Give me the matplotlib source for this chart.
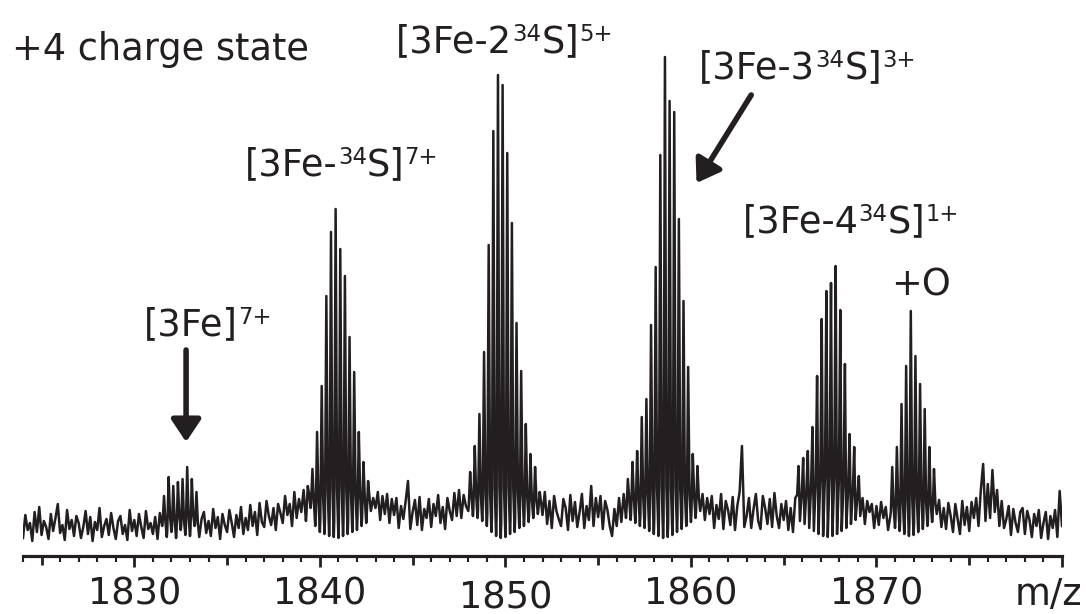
import numpy as np
import matplotlib.pyplot as plt
from matplotlib.ticker import MultipleLocator, FuncFormatter
from matplotlib.transforms import ScaledTranslation

ink = '#231f20'
plt.rcParams['font.family'] = ['DejaVu Sans']

# coarse profile of the +4 region, 0.125 m/z steps, one row per m/z unit
mz0 = 1824.0
dmz = 0.125
trace = [
    18, 41, 26, 33, 15, 44, 24, 49,   # 1824
    21, 35, 29, 17, 42, 25, 38, 52,   # 1825
    23, 31, 16, 46, 27, 36, 20, 40,   # 1826
    33, 18, 29, 45, 22, 39, 15, 34,   # 1827
    26, 48, 19, 30, 37, 21, 43, 28,   # 1828
    17, 35, 40, 22, 31, 16, 46, 25,   # 1829
    36, 20, 42, 29, 18, 45, 27, 33,   # 1830
    22, 39, 17, 43, 30, 45, 19, 50,   # 1831
    24, 47, 18, 49, 26, 46, 21, 52,   # 1832
    20, 48, 30, 42, 19, 37, 44, 23,   # 1833
    35, 20, 47, 28, 39, 17, 42, 31,   # 1834
    24, 46, 33, 19, 41, 28, 49, 22,   # 1835
    38, 26, 51, 30, 44, 21, 53, 34,   # 1836
    29, 55, 40, 31, 48, 26, 52, 43,   # 1837
    33, 60, 41, 52, 30, 64, 38, 57,   # 1838
    44, 66, 35, 70, 48, 72, 30, 75,   # 1839
    24, 85, 22, 95, 20, 100, 19, 100,  # 1840
    18, 100, 20, 95, 22, 90, 24, 85,  # 1841
    26, 80, 30, 72, 33, 68, 45, 58,   # 1842
    48, 64, 36, 60, 42, 62, 33, 57,   # 1843
    41, 58, 28, 50, 37, 55, 75, 27,   # 1844
    44, 56, 31, 59, 26, 47, 38, 57,   # 1845
    29, 52, 40, 61, 33, 49, 27, 58,   # 1846
    45, 36, 63, 40, 66, 38, 61, 50,   # 1847
    45, 72, 40, 75, 38, 80, 35, 85,   # 1848
    30, 90, 24, 100, 20, 105, 18, 100,  # 1849
    19, 100, 22, 95, 24, 88, 28, 82,  # 1850
    30, 76, 34, 70, 38, 66, 42, 62,   # 1851
    41, 64, 32, 55, 28, 60, 45, 37,   # 1852
    30, 57, 48, 26, 61, 35, 54, 29,   # 1853
    44, 62, 28, 50, 36, 70, 30, 58,   # 1854
    39, 60, 27, 55, 46, 30, 20, 47,   # 1855
    30, 58, 34, 62, 38, 70, 36, 74,   # 1856
    33, 78, 30, 82, 28, 88, 25, 92,   # 1857
    22, 98, 20, 105, 18, 105, 19, 100,  # 1858
    21, 98, 24, 92, 27, 86, 30, 80,   # 1859
    34, 74, 38, 68, 45, 62, 36, 58,   # 1860
    42, 60, 28, 51, 37, 62, 27, 55,   # 1861
    46, 31, 59, 26, 50, 64, 110, 29,  # 1862
    40, 58, 28, 47, 62, 35, 27, 60,   # 1863
    48, 32, 57, 29, 63, 40, 28, 52,   # 1864
    36, 55, 26, 48, 24, 58, 62, 35,   # 1865
    70, 32, 74, 28, 80, 25, 86, 22,   # 1866
    92, 20, 96, 19, 98, 20, 95, 22,   # 1867
    90, 25, 84, 28, 78, 32, 72, 36,   # 1868
    66, 40, 58, 32, 55, 44, 52, 28,   # 1869
    50, 31, 54, 38, 49, 26, 40, 62,   # 1870
    28, 68, 25, 74, 22, 80, 20, 84,   # 1871
    21, 80, 24, 75, 27, 70, 30, 65,   # 1872
    34, 60, 42, 56, 29, 48, 27, 53,   # 1873
    40, 24, 52, 37, 22, 55, 31, 49,   # 1874
    25, 54, 38, 58, 30, 66, 92, 35,   # 1875
    72, 38, 86, 44, 66, 30, 55, 28,   # 1876
    37, 50, 21, 47, 33, 24, 44, 48,   # 1877
    22, 45, 36, 19, 42, 30, 46, 18,   # 1878
    33, 44, 17, 40, 28, 46, 19, 65,   # 1879
    30,                               # 1880
]

# isotope envelopes of the +4 ions (0.25 m/z apart): first m/z, peak heights
iso_dmz = 0.25
env_start = [1831.60, 1839.35, 1848.10, 1856.60, 1865.80, 1870.85]
env_heights = [
    [60, 79, 70, 74, 77, 89, 77, 64],
    [70, 87, 124, 170, 260, 324, 347, 307, 280, 219, 184, 124, 94, 75],
    [84, 110, 142, 204, 311, 425, 481, 471, 403, 333, 233, 185, 132, 102, 89, 64],
    [77, 94, 105, 139, 157, 231, 289, 401, 499, 455, 444, 337, 255, 189, 102, 90],
    [90, 98, 105, 129, 180, 237, 265, 273, 290, 246, 192, 122, 109, 80],
    [89, 109, 152, 190, 245, 200, 172, 147, 109, 87],
]

tick_labels = [1830, 1840, 1850, 1860, 1870]

# each label: pieces of (text, superscript?) and the left end of its baseline
labels = [
    ([('+4 charge state', False)], 1823.42, 496),
    ([('[3Fe-2', False), ('34', True), ('S]', False), ('5+', True)], 1844.12, 504),
    ([('[3Fe-', False), ('34', True), ('S]', False), ('7+', True)], 1835.98, 381),
    ([('[3Fe-3', False), ('34', True), ('S]', False), ('3+', True)], 1860.45, 478),
    ([('[3Fe-4', False), ('34', True), ('S]', False), ('1+', True)], 1862.78, 324),
    ([('+O', False)], 1870.81, 261),
    ([('[3Fe]', False), ('7+', True)], 1830.54, 221),
]
# (tail, head) of the two pointer arrows
arrows = [((1832.79, 206), (1832.79, 114)),
          ((1863.25, 461), (1860.30, 373))]

# build the line: coarse trace plus a narrow spike for every isotope peak
mz = mz0 + dmz * np.arange(len(trace))
trace = np.array(trace, dtype=float)
peak_mz = np.concatenate([s + iso_dmz * np.arange(len(h)) for s, h in zip(env_start, env_heights)])
peak_h = np.concatenate([np.array(h, dtype=float) for h in env_heights])
w = 0.075
keep = np.min(np.abs(mz[:, None] - peak_mz[None, :]), axis=1) > w + 0.01
xs = np.concatenate([mz[keep], peak_mz - w, peak_mz, peak_mz + w])
ys = np.concatenate([trace[keep], np.interp(peak_mz - w, mz, trace), peak_h,
                     np.interp(peak_mz + w, mz, trace)])
order = np.argsort(xs, kind='stable')

fig = plt.figure(figsize=(10.86, 6.14), dpi=100)
ax = fig.add_axes([23 / 1086, 58 / 614, 1039 / 1086, 556 / 614])
ax.plot(xs[order], ys[order], color=ink, lw=1.8)
ax.set_xlim(1824, 1880)
ax.set_ylim(0, 556)

for side in ['left', 'right', 'top']:
    ax.spines[side].set_visible(False)
ax.spines['bottom'].set_linewidth(2.3)
ax.spines['bottom'].set_color(ink)
ax.yaxis.set_visible(False)

fs = 26.5
ax.xaxis.set_major_locator(MultipleLocator(5))
ax.xaxis.set_minor_locator(MultipleLocator(1))
ax.xaxis.set_major_formatter(FuncFormatter(lambda v, p: '%d' % v if round(v) in tick_labels else ''))
ax.tick_params(axis='x', which='major', length=8, width=2.0, color=ink,
               labelcolor=ink, labelsize=fs, pad=6)
ax.tick_params(axis='x', which='minor', length=4.5, width=1.5, color=ink)

locs = ax.xaxis.get_majorticklocs()
for loc, tick in zip(locs, ax.xaxis.get_major_ticks()):
    if loc % 10:
        tick.tick1line.set_markersize(6.5)
    if loc == 1850:
        lab = tick.label1
        lab.set_transform(lab.get_transform() + ScaledTranslation(0, -4 / 100, fig.dpi_scale_trans))

ax.text(1877.45, -49, 'm/z', fontsize=fs, color=ink, ha='left', va='baseline')

# labels with superscripts: chain each piece onto the one before it
for pieces, x, y in labels:
    first = ax.text(x, y, pieces[0][0], fontsize=fs, color=ink, ha='left', va='baseline')
    prev = main = first
    for s, sup in pieces[1:]:
        if sup:
            prev = ax.annotate(s, xy=(1, 1), xycoords=prev, fontsize=fs * 0.62,
                               color=ink, ha='left', va='top')
        else:
            prev = ax.annotate(s, xy=(1, 0), xycoords=(prev, main), fontsize=fs,
                               color=ink, ha='left', va='bottom')
            main = prev

for tail, head in arrows:
    ax.annotate('', xy=head, xytext=tail,
                arrowprops=dict(arrowstyle='-|>,head_length=0.45,head_width=0.3',
                                mutation_scale=30, lw=4, color=ink,
                                shrinkA=0, shrinkB=0))

fig.savefig('out.png', dpi=100)
